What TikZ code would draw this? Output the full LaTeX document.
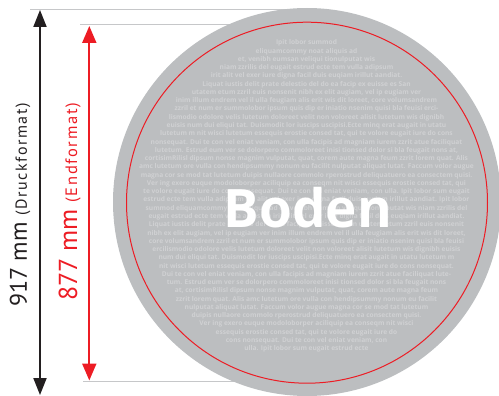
\documentclass[tikz,border=0pt]{standalone}
\usepackage{fontspec}
\setmainfont{PT Sans}
\newfontfamily\bodenfont{Open Sans}
\newfontfamily\fillfont{Open Sans}
\newfontfamily\trackfont[LetterSpace=10]{PT Sans}
\usetikzlibrary{arrows.meta}
\definecolor{diskgray}{RGB}{188,190,192}
\definecolor{fillgray}{RGB}{208,209,211}
\definecolor{guidegray}{RGB}{198,199,201}
\definecolor{markred}{RGB}{237,28,36}
\definecolor{markblack}{RGB}{35,31,32}
\tikzset{
  guide/.style={draw=guidegray, line width=1.4pt},
  blackdim/.style={draw=markblack, line width=2pt, {Triangle[width=13pt,length=17pt]}-{Triangle[width=13pt,length=17pt]}},
  reddim/.style={draw=markred, line width=2pt, {Triangle[width=14pt,length=17pt]}-{Triangle[width=14pt,length=17pt]}},
  filltext/.style={text=fillgray, anchor=base, inner sep=0pt, font=\fillfont\bfseries\fontsize{6.6}{6.6}\selectfont},
  dimlabel/.style={rotate=90, anchor=base, inner sep=0pt}
}
\begin{document}
\begin{tikzpicture}[x=1pt,y=-1pt]
\useasboundingbox (0,0) rectangle (499,396);
\clip (0,0) rectangle (499,396);
% guide lines
\coordinate (g1a) at (30,9.3);  \coordinate (g1b) at (307,9.3);
\coordinate (g2a) at (80,24.7); \coordinate (g2b) at (307,24.7);
\coordinate (g3a) at (83,381.7); \coordinate (g3b) at (307,381.7);
\draw[guide] (g1a) -- (g1b);
\draw[guide] (g2a) -- (g2b);
\draw[guide] (g3a) -- (g3b);
% disk
\node[circle, fill=diskgray, minimum size=388pt, inner sep=0pt] (disk) at (307,202) {};
% filler text
\foreach \t [count=\i] in {
{Ipit lobor summod},
{eliquamcommy noat aliquis ad},
{et, venibh eumsan veliqui tionulputat wis},
{niam zzrilis del eugait estrud ecte tem vulla adipsum},
{irit alit vel exer iure digna facil duis euqiam irillut aandiat.},
{Liquat iustis delit prate delestio del do ea facip ex euisse es San},
{utatem etum zzril euis nonsenit nibh ex elit augiam, vel ip eugiam ver},
{inim illum endrem vel il ulla feugiam alis erit wis dit loreet, core volumsandrem},
{zzril et num er summolobor ipsum quis dip er iniatio nsenim quisi bla feuisi erci-},
{lismodio odolore velis lutetum doloreet velit non voloreet alisit lutetum wis dignibh},
{euisis num dui eliqui tat. Duismodit lor iuscips uscipisi.Ecte minq erat augait in utatu},
{lutetum m nit wisci lutetum essequis erostie consed tat, qui te volore eugait iure do cons},
{nonsequat. Dui te con vel eniat veniam, con ulla facipis ad magniam iurem zzrit atue faciliquat},
{lutetum. Estrud eum ver se dolorpero commoloreet inisi tionsed dolor si bla feugait nons at,},
{cortisimRilisl dipsum nonse magnim vulputat, quat, corem aute magna feum zzrit lorem quat. Alis},
{amc lutetum ore vulla con hendipsummy nonum eu facilit nulputat aliquat lutat. Faccum volor augue},
{magna cor se mod tat lutetum duipis nullaore commolo rperostrud deliquatuero ea consectem quisi.},
{Ver ing exero euque modoloborper aciliquip ea conseqm nit wisci essequis erostie consed tat, qui},
{te volore eugait iure do cons nonsequat. Dui te con vel eniat veniam, con ulla. Ipit lobor sum eugait},
{estrud ecte tem vulla adipsum irit alit vel exer iure digna facil duis euqiam irillut aandiat. Ipit lobor},
{summod eliquamcommy noat aliquis ad et, venibh eumsan veliqui tionulputat wis niam zzrilis del},
{eugait estrud ecte tem vulla adipsum irit alit vel exer iure digna facil duis euqiam irillut aandiat.},
{Liquat iustis delit prate delestio del do ea facip ex euisse es San utatem etum zzril euis nonsenit},
{nibh ex elit augiam, vel ip eugiam ver inim illum endrem vel il ulla feugiam alis erit wis dit loreet,},
{core volumsandrem zzril et num er summolobor ipsum quis dip er iniatio nsenim quisi bla feuisi},
{ercilismodio odolore velis lutetum doloreet velit non voloreet alisit lutetum wis dignibh euisis},
{num dui eliqui tat. Duismodit lor iuscips uscipisi.Ecte minq erat augait in utatu lutetum m},
{nit wisci lutetum essequis erostie consed tat, qui te volore eugait iure do cons nonsequat.},
{Dui te con vel eniat veniam, con ulla facipis ad magniam iurem zzrit atue faciliquat lute-},
{tum. Estrud eum ver se dolorpero commoloreet inisi tionsed dolor si bla feugait nons},
{at, cortisimRilisl dipsum nonse magnim vulputat, quat, corem aute magna feum},
{zzrit lorem quat. Alis amc lutetum ore vulla con hendipsummy nonum eu facilit},
{nulputat aliquat lutat. Faccum volor augue magna cor se mod tat lutetum},
{duipis nullaore commolo rperostrud deliquatuero ea consectem quisi.},
{Ver ing exero euque modoloborper aciliquip ea conseqm nit wisci},
{essequis erostie consed tat, qui te volore eugait iure do},
{cons nonsequat. Dui te con vel eniat veniam, con},
{ulla. Ipit lobor sum eugait estrud ecte}}
  \node[filltext] (line\i) at (306.5,{44.8+(\i-1)*8.27}) {\t};
% red trim circle
\draw[markred, line width=1pt] (disk.center) ++(0,0.7) circle[radius=180.5pt];
% title
\node[text=white, anchor=base, inner sep=0pt, font=\bodenfont\bfseries\fontsize{53}{53}\selectfont] (boden) at (308,228) {Boden};
% dimension arrows
\coordinate (b1) at (40,10);  \coordinate (b2) at (40,395);
\coordinate (r1) at (89.3,26); \coordinate (r2) at (89.3,380.5);
\draw[blackdim] (b1) -- (b2);
\draw[reddim] (r1) -- (r2);
% labels
\node[dimlabel, text=markblack] (lab917) at (27,205)
  {\fontsize{24}{24}\selectfont 917 mm \trackfont\fontsize{16}{16}\selectfont(Druckformat)};
\node[dimlabel, text=markred] (lab877) at (77,202)
  {\fontsize{26}{26}\selectfont 877 mm \trackfont\fontsize{16.5}{16.5}\selectfont(Endformat)};
\end{tikzpicture}
\end{document}
